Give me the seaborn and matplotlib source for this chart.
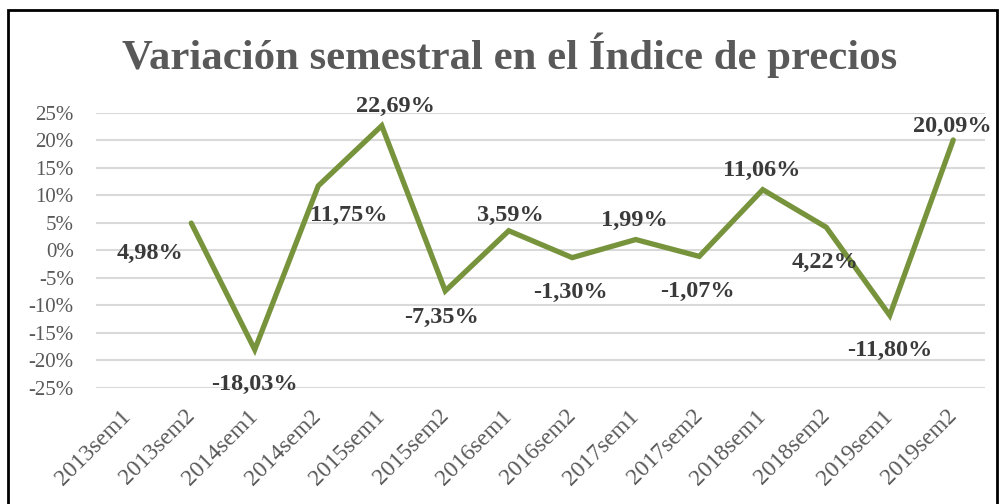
import matplotlib
matplotlib.use('Agg')
import matplotlib.pyplot as plt
import matplotlib.ticker as mticker
from matplotlib.patches import Rectangle
import numpy as np
import pandas as pd
import seaborn as sns

# Data
periods = ['2013sem1', '2013sem2', '2014sem1', '2014sem2', '2015sem1', '2015sem2',
           '2016sem1', '2016sem2', '2017sem1', '2017sem2', '2018sem1', '2018sem2',
           '2019sem1', '2019sem2']
variation = [np.nan, 4.98, -18.03, 11.75, 22.69, -7.35, 3.59, -1.30, 1.99, -1.07,
             11.06, 4.22, -11.80, 20.09]
y_ticks = [-25, -20, -15, -10, -5, 0, 5, 10, 15, 20, 25]

# label offsets in points (manual placement like the original)
label_offsets = [None, (-30, -22), (0, -25), (22, -21), (10, 14), (-3, -19),
                 (1, 11), (-1, -25), (-1, 14), (-1, -25), (-1, 14), (-1, -25),
                 (0, -25), (-1, 10)]

df = pd.DataFrame({'periodo': periods, 'var': variation})
df['x'] = range(len(df))

sns.set_theme(style='white')
plt.rcParams['font.family'] = ['Liberation Serif', 'DejaVu Serif']

fig = plt.figure(figsize=(10, 5.04), dpi=100)
ax = fig.add_axes([0.096, 0.2302, 0.889, 0.5456])

sns.lineplot(data=df, x='x', y='var', color='#77933C', linewidth=3.8, ax=ax,
             clip_on=False, solid_joinstyle='miter')

for i, (v, off) in enumerate(zip(variation, label_offsets)):
    if off is None or np.isnan(v):
        continue
    txt = f"{v:.2f}%".replace('.', ',')
    ax.annotate(txt, (i, v), xytext=off, textcoords='offset points',
                ha='center', va='center', fontsize=17.5, fontweight='bold',
                color='#3A3A3A')

ax.set_xlim(-0.5, len(periods) - 0.5)
ax.set_ylim(-25, 25)
ax.set_yticks(y_ticks)
ax.yaxis.set_major_formatter(mticker.FuncFormatter(lambda v, p: f"{int(round(v))}%"))
ax.set_xticks(range(len(periods)))
ax.set_xticklabels(periods, rotation=45, ha='right', va='center', rotation_mode='anchor')
ax.tick_params(axis='x', labelsize=17, colors='#595959', length=0, pad=18)
ax.tick_params(axis='y', labelsize=15, colors='#595959', length=0, pad=16)
ax.grid(axis='y', color='#D9D9D9', linewidth=1.5)
ax.set_axisbelow(True)
for s in ax.spines.values():
    s.set_visible(False)
ax.set_xlabel('')
ax.set_ylabel('')

fig.text(0.51, 0.891, 'Variación semestral en el Índice de precios', ha='center', va='center',
         fontsize=30.8, fontweight='bold', color='#595959')

# frame around chart
fig.patches.append(Rectangle((0.008, -0.05), 0.989, 1.03, transform=fig.transFigure,
                             fill=False, edgecolor='black', linewidth=2))

fig.savefig('out.png', dpi=100)
